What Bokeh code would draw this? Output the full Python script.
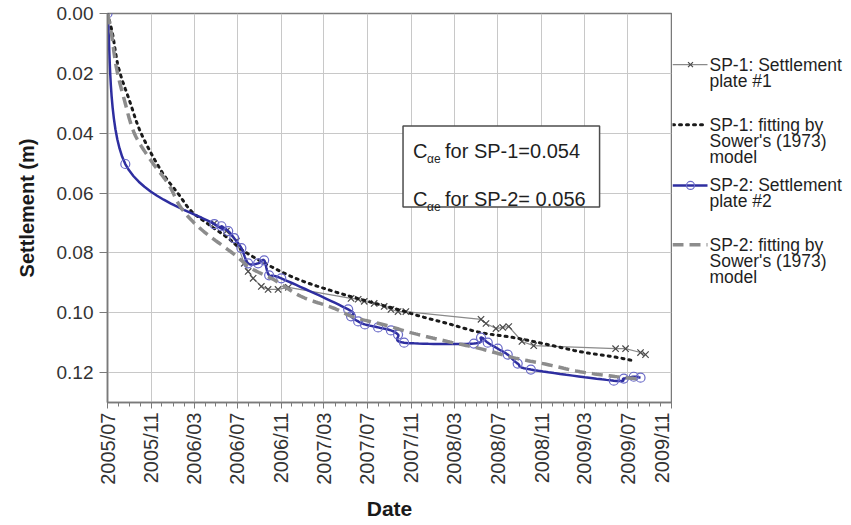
import math
import numpy as np
import pandas as pd
from bokeh.plotting import figure
from bokeh.layouts import row
from bokeh.models import Range1d, FixedTicker, DatetimeTickFormatter, NumeralTickFormatter
from bokeh.core.properties import value
from bokeh.embed import file_html
from bokeh.resources import INLINE

# ---------------- data ----------------
sp1_dates = ["2006-04-27", "2006-05-31", "2006-06-28", "2006-07-20", "2006-07-31", "2006-08-14",
             "2006-09-06", "2006-09-25", "2006-10-23", "2006-11-21", "2007-05-16", "2007-06-05",
             "2007-06-22", "2007-07-20", "2007-08-17", "2007-09-05", "2007-09-25", "2007-10-17",
             "2008-05-15", "2008-05-29", "2008-06-26", "2008-07-15", "2008-08-01", "2008-09-07",
             "2008-10-10", "2009-05-28", "2009-06-25", "2009-08-06", "2009-08-20"]
sp1_settlement = [0.0701, 0.0727, 0.0761, 0.0835, 0.0862, 0.0885,
                  0.0912, 0.0922, 0.0922, 0.0915, 0.0952, 0.0955,
                  0.0962, 0.0969, 0.0979, 0.0989, 0.0996, 0.0996,
                  0.1022, 0.1036, 0.1053, 0.1049, 0.1046, 0.1096,
                  0.1110, 0.1120, 0.1120, 0.1133, 0.1140]

sp1_fit_dates = ["2005-07-01", "2005-07-15", "2005-08-01", "2005-09-01", "2005-10-04", "2005-11-29",
                 "2006-01-16", "2006-02-21", "2006-04-10", "2006-06-05", "2006-07-20", "2006-10-12",
                 "2006-12-26", "2007-03-29", "2007-07-02", "2007-09-24", "2007-11-27", "2008-02-11",
                 "2008-05-13", "2008-08-14", "2008-11-17", "2009-02-17", "2009-05-21", "2009-07-16"]
sp1_fit = [0.0, 0.0067, 0.0181, 0.0292, 0.0402, 0.0526,
           0.0603, 0.0660, 0.0704, 0.0751, 0.0795, 0.0851,
           0.0892, 0.0929, 0.0962, 0.0989, 0.1012, 0.1036,
           0.1066, 0.1083, 0.1106, 0.1130, 0.1147, 0.1160]

sp2_dates = ["2005-07-01", "2005-08-20", "2006-04-27", "2006-05-17", "2006-06-05", "2006-06-22",
             "2006-07-12", "2006-07-31", "2006-08-28", "2006-09-14", "2006-09-28", "2006-11-01",
             "2007-05-08", "2007-05-16", "2007-06-05", "2007-06-24", "2007-07-31", "2007-09-05",
             "2007-09-25", "2007-10-12", "2008-04-25", "2008-05-15", "2008-06-03", "2008-07-01",
             "2008-07-29", "2008-08-26", "2008-10-02", "2009-05-23", "2009-06-20", "2009-07-18",
             "2009-08-06"]
sp2_settlement = [0.0, 0.0503, 0.0704, 0.0711, 0.0727, 0.0751,
                  0.0784, 0.0835, 0.0835, 0.0825, 0.0875, 0.0885,
                  0.0989, 0.1012, 0.1029, 0.1039, 0.1049, 0.1059,
                  0.1073, 0.1100, 0.1103, 0.1083, 0.1100, 0.1120,
                  0.1140, 0.1170, 0.1190, 0.1227, 0.1220, 0.1214,
                  0.1217]

sp2_fit_dates = ["2005-07-01", "2005-07-12", "2005-07-26", "2005-08-18", "2005-09-15", "2005-11-01",
                 "2005-12-19", "2006-01-24", "2006-03-21", "2006-06-22", "2006-08-08", "2006-10-12",
                 "2006-12-26", "2007-03-29", "2007-05-24", "2007-08-16", "2007-11-08", "2008-02-11",
                 "2008-05-13", "2008-08-14", "2008-11-17", "2009-02-17", "2009-05-21", "2009-08-06"]
sp2_fit = [0.0, 0.0067, 0.0181, 0.0292, 0.0402, 0.0493,
           0.0570, 0.0650, 0.0721, 0.0805, 0.0851, 0.0890,
           0.0945, 0.0985, 0.1015, 0.1040, 0.1069, 0.1096,
           0.1120, 0.1150, 0.1173, 0.1197, 0.1212, 0.1222]

x_tick_dates = ["2005-07-01", "2005-11-01", "2006-03-01", "2006-07-01", "2006-11-01", "2007-03-01",
                "2007-07-01", "2007-11-01", "2008-03-01", "2008-07-01", "2008-11-01", "2009-03-01",
                "2009-07-01", "2009-11-01"]
y_ticks = [0.00, 0.02, 0.04, 0.06, 0.08, 0.10, 0.12]

legend_labels = [["SP-1: Settlement", "plate #1"],
                 ["SP-1: fitting by", "Sower's (1973)", "model"],
                 ["SP-2: Settlement", "plate #2"],
                 ["SP-2: fitting by", "Sower's (1973)", "model"]]
box_lines = [("C", "\u03b1e", "for SP-1=0.054"), ("C", "\u03b1e", "for SP-2= 0.056")]


# ---------------- helpers ----------------
def ms(dates):
    d = pd.to_datetime(pd.Series(dates))
    return ((d - pd.Timestamp("1970-01-01")) / pd.Timedelta(milliseconds=1)).to_numpy(dtype=float)


def smooth(xs, ys, n=16):
    """Uniform Catmull-Rom rendering of a 'smoothed line' (as the spreadsheet draws it)."""
    P = np.column_stack([np.asarray(xs, float), np.asarray(ys, float)])
    P = np.vstack([P[0], P, P[-1]])
    t = np.linspace(0, 1, n, endpoint=False)[:, None]
    out = []
    for i in range(1, len(P) - 2):
        p0, p1, p2, p3 = P[i - 1], P[i], P[i + 1], P[i + 2]
        pts = 0.5 * (2 * p1 + (-p0 + p2) * t + (2 * p0 - 5 * p1 + 4 * p2 - p3) * t ** 2
                     + (-p0 + 3 * p1 - 3 * p2 + p3) * t ** 3)
        out.append(pts)
    out.append(P[-2][None, :])
    A = np.vstack(out)
    return A[:, 0], A[:, 1]


FONT = "Liberation Sans"
TXT = "#1f1f1f"

# ---------------- main figure ----------------
x_major = ms(x_tick_dates)
x_minor = ms(pd.date_range("2005-07-01", "2009-11-01", freq="MS").strftime("%Y-%m-%d"))

p = figure(width=672, height=525, title=None, x_axis_type="datetime",
           x_range=Range1d(x_major[0], x_major[-1]), y_range=Range1d(0.13, 0.0),
           output_backend="svg", toolbar_location=None,
           min_border_left=107, min_border_right=1, min_border_top=13, min_border_bottom=123,
           background_fill_color="white", border_fill_color="white",
           outline_line_color="#7a7a7a", outline_line_width=1.5)

xt = FixedTicker(ticks=list(x_major), minor_ticks=list(x_minor))
p.xaxis.ticker = xt
p.xgrid.ticker = xt
fmt = "%Y/%m"
p.xaxis.formatter = DatetimeTickFormatter(microseconds=fmt, milliseconds=fmt, seconds=fmt, minsec=fmt,
                                          minutes=fmt, hourmin=fmt, hours=fmt, days=fmt,
                                          months=fmt, years=fmt)
yt = FixedTicker(ticks=y_ticks, minor_ticks=[])
p.yaxis.ticker = yt
p.ygrid.ticker = yt
p.yaxis.formatter = NumeralTickFormatter(format="0.00")

for g in (p.xgrid, p.ygrid):
    g.grid_line_color = "#c8c8c8"
    g.grid_line_width = 1

for ax in (p.xaxis, p.yaxis):
    ax.axis_line_color = "#7a7a7a"
    ax.axis_line_width = 1.5
    ax.major_tick_line_color = "#7a7a7a"
    ax.minor_tick_line_color = "#7a7a7a"
    ax.major_tick_in = 0
    ax.minor_tick_in = 0
    ax.major_label_text_font = FONT
    ax.major_label_text_color = "#333333"
    ax.axis_label_text_font = FONT
    ax.axis_label_text_font_style = "bold"
    ax.axis_label_text_color = "#1a1a1a"

p.xaxis.major_tick_out = 6
p.xaxis.minor_tick_out = 4
p.xaxis.major_label_orientation = math.pi / 2
p.xaxis.major_label_text_font_size = "20px"
p.xaxis.major_label_standoff = 4
p.xaxis.axis_label = "Date"
p.xaxis.axis_label_text_font_size = "21px"
p.xaxis.axis_label_standoff = 9

p.yaxis.major_tick_out = 8
p.yaxis.minor_tick_out = 0
p.yaxis.major_label_text_font_size = "19px"
p.yaxis.major_label_standoff = 6
p.yaxis.axis_label = "Settlement (m)"
p.yaxis.axis_label_text_font_size = "20px"
p.yaxis.axis_label_standoff = 16

# series (spreadsheet order: SP-1, SP-1 fit, SP-2, SP-2 fit)
x1 = ms(sp1_dates)
p.line(x1, sp1_settlement, line_color="#8a8a8a", line_width=1.2)
p.scatter(x1, sp1_settlement, marker="x", size=9, line_color="#4a4a4a", line_width=1.2)

fx1, fy1 = smooth(ms(sp1_fit_dates), sp1_fit)
p.line(fx1, fy1, line_color="#1a1a1a", line_width=3, line_dash="2 5", line_cap="round")

x2 = ms(sp2_dates)
sx2, sy2 = smooth(x2, sp2_settlement)
p.line(sx2, sy2, line_color="#2e2ea0", line_width=2.5)
p.scatter(x2, sp2_settlement, marker="circle", size=9, line_color="#6a6ac8", fill_color=None,
          line_width=1.2)

fx2, fy2 = smooth(ms(sp2_fit_dates), sp2_fit)
p.line(fx2, fy2, line_color="#8c8c8c", line_width=3.5, line_dash="11 6")

# C_alpha_e text box
bx = ms(["2007-10-09", "2009-04-13", "2007-11-06"])
p.quad(left=[bx[0]], right=[bx[1]], top=[0.0376], bottom=[0.0647],
       fill_color="white", line_color="#4d4d4d", line_width=1.5)
for (c, sub, rest), yb in zip(box_lines, [0.0459, 0.0620]):
    p.text(x=[bx[2]], y=[yb], text=[c], text_font=value(FONT), text_font_size="20px",
           text_baseline="alphabetic", text_color=TXT)
    p.text(x=[bx[2]], y=[yb], text=[sub], text_font=value(FONT), text_font_size="12px",
           text_baseline="alphabetic", text_color=TXT, x_offset=14, y_offset=8)
    p.text(x=[bx[2]], y=[yb], text=[rest], text_font=value(FONT), text_font_size="20px",
           text_baseline="alphabetic", text_color=TXT, x_offset=32)

# ---------------- legend panel (page pixel coordinates) ----------------
lg = figure(width=179, height=525, title=None, x_range=Range1d(672, 851), y_range=Range1d(525, 0),
            output_backend="svg", toolbar_location=None, min_border=0,
            x_axis_location=None, y_axis_location=None, outline_line_color=None,
            background_fill_color="white", border_fill_color="white")
lg.grid.visible = False

rows_y = [69, 150, 232, 312]
lx0, lx1, lxm, ltx = 672, 707, 690, 709
lg.line([lx0, lx1], [rows_y[0]] * 2, line_color="#8a8a8a", line_width=1.2)
lg.scatter([lxm], [rows_y[0]], marker="x", size=7, line_color="#4a4a4a", line_width=1.2)
lg.line([lx0, lx1], [rows_y[1]] * 2, line_color="#1a1a1a", line_width=3, line_dash="2 5", line_cap="round")
lg.line([lx0, lx1], [rows_y[2]] * 2, line_color="#2e2ea0", line_width=2.5)
lg.scatter([lxm], [rows_y[2]], marker="circle", size=8, line_color="#6a6ac8", fill_color=None, line_width=1.2)
lg.line([lx0, lx1], [rows_y[3]] * 2, line_color="#8c8c8c", line_width=3.5, line_dash="11 6")

for y0, lines in zip(rows_y, legend_labels):
    for k, t in enumerate(lines):
        lg.text(x=[ltx], y=[y0 + 21.5 * k], text=[t], text_font=value(FONT), text_font_size="17.5px",
                text_baseline="middle", text_color=TXT)

layout = row(p, lg, spacing=0)
open("out.html", "w").write(file_html(layout, INLINE))
